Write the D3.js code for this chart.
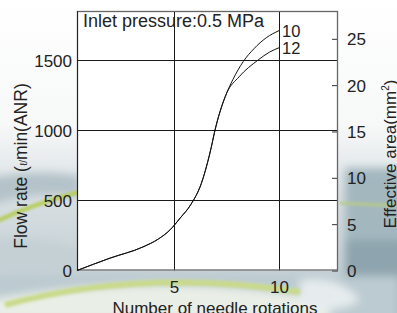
<!DOCTYPE html>
<html>
<head>
<meta charset="utf-8">
<script src="https://cdn.jsdelivr.net/npm/d3@7"></script>
<style>
  body { margin: 0; background: #fff; }
  svg { display: block; font-family: "Liberation Sans", Arial, sans-serif; }
</style>
</head>
<body>
<div id="chart"></div>
<script>
// values
var sharedRot  = [0, 1.7, 3.4, 4.2, 4.8, 5.3, 5.8, 6.3, 6.7, 7.0, 7.5];
var sharedFlow = [0, 88, 168, 225, 290, 375, 470, 620, 830, 1030, 1262];
var rot10  = [7.8, 8.3, 8.8, 9.4, 10];
var flow10 = [1360, 1490, 1580, 1660, 1710];
var rot12  = [8.1, 9.0, 9.55, 10];
var flow12 = [1381, 1500, 1557, 1588];
var seriesNames = ["10", "12"];
var xTicks = [5, 10];
var flowTicks = [0, 500, 1000, 1500];
var areaTicks = [0, 5, 10, 15, 20, 25];

var W = 397, H = 313;
var plot = { l: 77, r: 338, t: 11, b: 270.5 };
var font = "Liberation Sans, Arial, sans-serif";

var svg = d3.select("#chart").append("svg")
    .attr("width", W)
    .attr("height", H);

// ---- background (photo-like swooshes) ----
var defs = svg.append("defs");
defs.append("filter").attr("id", "blur")
    .attr("x", "-20%").attr("y", "-20%").attr("width", "140%").attr("height", "140%")
    .append("feGaussianBlur").attr("stdDeviation", 4);
defs.append("filter").attr("id", "blur2")
    .append("feGaussianBlur").attr("stdDeviation", 1.5);

var bgGrad = defs.append("linearGradient").attr("id", "bgGrad")
    .attr("x1", 0).attr("y1", 0).attr("x2", 0).attr("y2", 1);
bgGrad.append("stop").attr("offset", "0%").attr("stop-color", "#ffffff");
bgGrad.append("stop").attr("offset", "40%").attr("stop-color", "#f7f8f8");
bgGrad.append("stop").attr("offset", "62%").attr("stop-color", "#d9e0e3");
bgGrad.append("stop").attr("offset", "100%").attr("stop-color", "#b9c7cd");
svg.append("rect").attr("width", W).attr("height", H).attr("fill", "url(#bgGrad)");

var bg = svg.append("g").attr("filter", "url(#blur)");
bg.append("rect").attr("x", 345).attr("y", 168).attr("width", 60).attr("height", 150)
    .attr("fill", "#a3b7bf");
bg.append("rect").attr("x", 345).attr("y", 240).attr("width", 60).attr("height", 80)
    .attr("fill", "#8ea4ae");
bg.append("path").attr("d", "M-10,178 Q40,168 80,176 L80,196 Q40,190 -10,205 Z")
    .attr("fill", "#b4c3c9");
bg.append("path").attr("d", "M-10,240 Q40,235 80,250 L80,275 Q30,262 -10,275 Z")
    .attr("fill", "#c4d0d4");
bg.append("path").attr("d", "M-10,276 L400,276 L400,320 L-10,320 Z")
    .attr("fill", "#bccbd1");
bg.append("path").attr("d", "M-10,300 Q150,270 330,300 L330,320 L-10,320 Z")
    .attr("fill", "#e9eee6");
bg.append("path").attr("d", "M300,280 Q340,275 360,300 Q340,315 300,305 Z")
    .attr("fill", "#e6ecee");

var streaks = svg.append("g").attr("filter", "url(#blur2)").attr("fill", "none");
streaks.append("path").attr("d", "M-5,222 Q35,203 80,192")
    .attr("stroke", "#b5cc55").attr("stroke-width", 4);
streaks.append("path").attr("d", "M5,305 Q140,268 300,292")
    .attr("stroke", "#c9da8a").attr("stroke-width", 6);
streaks.append("path").attr("d", "M340,203 L400,206")
    .attr("stroke", "#b8c98a").attr("stroke-width", 3);

// ---- scales ----
var x = d3.scaleLinear().domain([0, 5, 10, 12.8]).range([plot.l, 174, 279, plot.r]);
var yFlow = d3.scaleLinear().domain([0, 1850]).range([plot.b, plot.t]);
var yArea = d3.scaleLinear().domain([0, 28]).range([plot.b, plot.t]);

svg.append("rect")
    .attr("x", plot.l).attr("y", plot.t)
    .attr("width", plot.r - plot.l).attr("height", plot.b - plot.t)
    .attr("fill", "#fff");

// grid
var grid = svg.append("g").attr("stroke", "#1a1a1a").attr("stroke-width", 1);
grid.selectAll(".hgrid").data(flowTicks.filter(function(d) { return d > 0; }))
    .enter().append("line")
    .attr("x1", plot.l).attr("x2", plot.r)
    .attr("y1", function(d) { return Math.round(yFlow(d)) + 0.5; })
    .attr("y2", function(d) { return Math.round(yFlow(d)) + 0.5; });
grid.selectAll(".vgrid").data(xTicks)
    .enter().append("line")
    .attr("y1", plot.t).attr("y2", plot.b)
    .attr("x1", function(d) { return Math.round(x(d)) + 0.5; })
    .attr("x2", function(d) { return Math.round(x(d)) + 0.5; });

function styleTicks(g) {
    g.select(".domain").remove();
    g.selectAll(".tick text")
        .attr("font-size", 17).attr("fill", "#222")
        .attr("font-family", font);
}

// right axis (ticks inward)
var ra = svg.append("g").attr("transform", "translate(" + plot.r + ",0)")
    .call(d3.axisRight(yArea).tickValues(areaTicks).tickSize(-6).tickPadding(9))
    .call(styleTicks);
ra.selectAll(".tick line").attr("stroke", "#333");
ra.selectAll(".tick text").attr("dy", "0.36em");

// left axis labels
var lag = svg.append("g").attr("transform", "translate(" + plot.l + ",0)")
    .call(d3.axisLeft(yFlow).tickValues(flowTicks).tickFormat(d3.format("d")).tickSize(0).tickPadding(5))
    .call(styleTicks);
lag.selectAll(".tick text").attr("dy", "0.36em");

// bottom axis labels
svg.append("g").attr("transform", "translate(0," + plot.b + ")")
    .call(d3.axisBottom(x).tickValues(xTicks).tickSize(0).tickPadding(10))
    .call(styleTicks);

// frame
svg.append("rect")
    .attr("x", plot.l + 0.5).attr("y", plot.t + 0.5)
    .attr("width", plot.r - plot.l - 1).attr("height", plot.b - plot.t - 1)
    .attr("fill", "none").attr("stroke", "#666").attr("stroke-width", 1.3);
svg.append("line")
    .attr("x1", plot.l + 0.5).attr("x2", plot.l + 0.5)
    .attr("y1", plot.t).attr("y2", plot.b)
    .attr("stroke", "#222");

// curves
var series = [
    { name: seriesNames[0], rot: sharedRot.concat(rot10), flow: sharedFlow.concat(flow10) },
    { name: seriesNames[1], rot: sharedRot.concat(rot12), flow: sharedFlow.concat(flow12) }
];
var line = d3.line()
    .x(function(d) { return x(d[0]); })
    .y(function(d) { return yFlow(d[1]); })
    .curve(d3.curveMonotoneX);

svg.selectAll(".curve").data(series)
    .enter().append("path")
    .attr("class", "curve")
    .attr("d", function(s) { return line(d3.zip(s.rot, s.flow)); })
    .attr("fill", "none")
    .attr("stroke", "#111")
    .attr("stroke-width", 1);

svg.selectAll(".curve-label").data(series)
    .enter().append("text")
    .attr("x", function(s) { return x(s.rot[s.rot.length - 1]) + 3; })
    .attr("y", function(s) { return yFlow(s.flow[s.flow.length - 1]) + 6; })
    .attr("font-size", 16.5).attr("fill", "#222")
    .text(function(s) { return s.name; });

// texts
svg.append("text")
    .attr("x", 83).attr("y", 27)
    .attr("font-size", 18).attr("fill", "#222")
    .text("Inlet pressure:0.5 MPa");

var yt = svg.append("text")
    .attr("transform", "translate(27,166) rotate(-90)")
    .attr("text-anchor", "middle")
    .attr("font-size", 17.5).attr("fill", "#222");
yt.append("tspan").text("Flow rate (");
yt.append("tspan").attr("font-size", 10).text("ℓ/");
yt.append("tspan").text("min(ANR)");

var yt2 = svg.append("text")
    .attr("transform", "translate(396,154) rotate(-90)")
    .attr("text-anchor", "middle")
    .attr("font-size", 17).attr("fill", "#222");
yt2.append("tspan").text("Effective area(mm");
yt2.append("tspan").attr("font-size", 10).attr("dy", -7).text("2");
yt2.append("tspan").attr("dy", 7).text(")");

svg.append("text")
    .attr("x", 215).attr("y", 314)
    .attr("text-anchor", "middle")
    .attr("font-size", 17).attr("fill", "#222")
    .text("Number of needle rotations");
</script>
</body>
</html>
